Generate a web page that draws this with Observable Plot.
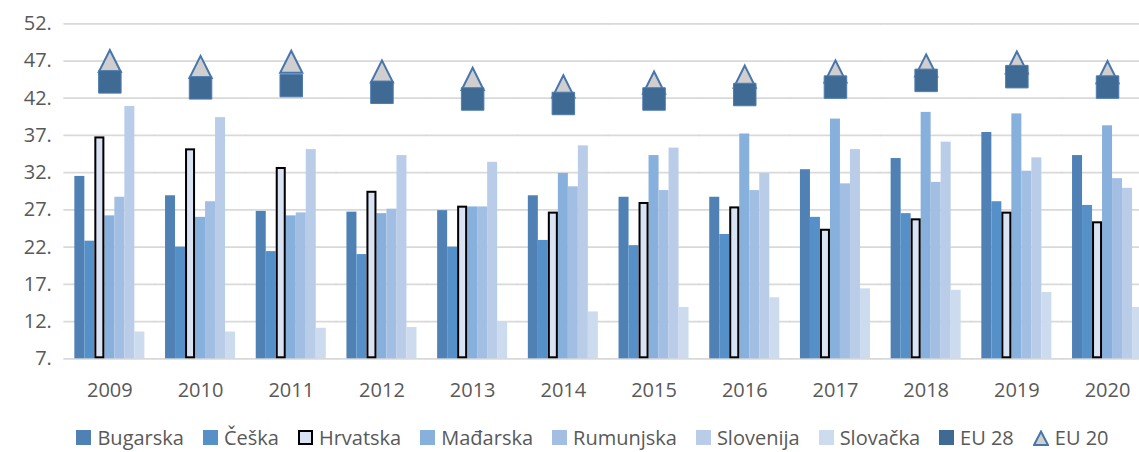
<!DOCTYPE html>
<html>
<head>
<meta charset="utf-8">
<script src="https://cdn.jsdelivr.net/npm/d3@7"></script>
<script src="https://cdn.jsdelivr.net/npm/@observablehq/plot@0.6"></script>
<style>
  html, body { margin: 0; padding: 0; background: #fff; overflow: hidden; }
  #wrap { position: relative; width: 1185px; height: 452px; font-family: "Open Sans", sans-serif; }
  #legend { position: absolute; left: 0; top: 424px; width: 1185px; display: flex; justify-content: center;
            font-size: 20px; color: #595959; line-height: normal; white-space: nowrap; }
  .item { display: flex; align-items: center; margin: 0 9.5px; }
  .sw { width: 15px; height: 15px; margin-right: 6px; box-sizing: border-box; }
</style>
</head>
<body>
<div id="wrap">
  <div id="chart"></div>
  <div id="legend"></div>
</div>
<script>
const years = ["2009","2010","2011","2012","2013","2014","2015","2016","2017","2018","2019","2020"];
const countries = ["Bugarska","Češka","Hrvatska","Mađarska","Rumunjska","Slovenija","Slovačka"];
const bugarska  = [31.5, 28.9, 26.8, 26.7, 26.9, 28.9, 28.7, 28.7, 32.4, 33.9, 37.4, 34.3];
const ceska     = [22.8, 22.0, 21.4, 21.0, 22.0, 22.9, 22.2, 23.7, 26.0, 26.5, 28.1, 27.6];
const hrvatska  = [36.8, 35.2, 32.7, 29.5, 27.5, 26.7, 28.0, 27.4, 24.4, 25.8, 26.7, 25.4];
const madarska  = [26.2, 26.0, 26.2, 26.5, 27.4, 31.9, 34.3, 37.2, 39.2, 40.1, 39.9, 38.3];
const rumunjska = [28.7, 28.1, 26.6, 27.1, 27.4, 30.1, 29.6, 29.6, 30.5, 30.7, 32.2, 31.2];
const slovenija = [40.9, 39.4, 35.1, 34.3, 33.4, 35.6, 35.3, 31.9, 35.1, 36.1, 34.0, 29.9];
const slovacka  = [10.6, 10.6, 11.1, 11.2, 11.9, 13.3, 13.9, 15.2, 16.4, 16.2, 15.9, 13.9];
const eu28      = [44.2, 43.4, 43.7, 42.8, 41.9, 41.3, 41.9, 42.5, 43.5, 44.4, 44.9, 43.5];
const eu20      = [47.0, 46.2, 46.9, 45.6, 44.6, 43.6, 44.1, 44.9, 45.6, 46.4, 46.8, 45.5];
const yTicks = [7, 12, 17, 22, 27, 32, 37, 42, 47, 52];
const legendLabels = ["Bugarska","Češka","Hrvatska","Mađarska","Rumunjska","Slovenija","Slovačka","EU 28","EU 20"];

const colors = ["#4f81b5", "#5591c8", "#dae3f3", "#88b0dc", "#a3bee3", "#b9cde9", "#cddbee"];
const eu28Color = "#3e6a94";
const eu20Fill = "#d0cece";
const eu20Stroke = "#4676ab";

const series = [bugarska, ceska, hrvatska, madarska, rumunjska, slovenija, slovacka];
const rows = years.flatMap((yr, i) => countries.map((c, j) => ({year: yr, country: c, value: series[j][i]})));
const eu = years.map((yr, i) => ({year: yr, eu28: eu28[i], eu20: eu20[i]}));
const yMin = yTicks[0];

const triangle = {
  draw(context, size) {
    const h = Math.sqrt(size) / 2;
    context.moveTo(0, -h);
    context.lineTo(h, h);
    context.lineTo(-h, h);
    context.closePath();
  }
};

const chart = Plot.plot({
  width: 1185,
  height: 410,
  marginTop: 23.3,
  marginBottom: 51.7,
  marginLeft: 64,
  marginRight: 32.6,
  style: {fontFamily: "Open Sans, sans-serif", fontSize: "20px", color: "#595959", background: "transparent", overflow: "visible", maxWidth: "none"},
  fx: {domain: years, paddingInner: 0.228, paddingOuter: 0.114, round: false, label: null, axis: "bottom", tickSize: 0, tickPadding: 24},
  x: {domain: countries, padding: 0, round: false, axis: null},
  y: {domain: [yTicks[0], yTicks[yTicks.length - 1]], ticks: yTicks, tickFormat: d => d + ".", tickSize: 0, tickPadding: 23, label: null},
  color: {domain: countries, range: colors},
  marks: [
    Plot.ruleY(yTicks, {stroke: "#d9d9d9", strokeWidth: 1.75, insetLeft: -11, insetRight: -11}),
    Plot.barY(rows, {fx: "year", x: "country", y1: yMin, y2: "value", fill: "country"}),
    Plot.barY(rows.filter(d => d.country === "Hrvatska"), {fx: "year", x: "country", y1: yMin, y2: "value", fill: "none", stroke: "#000", strokeWidth: 2, inset: 1}),
    Plot.dot(eu, {fx: "year", y: "eu20", symbol: triangle, r: 12.5, fill: eu20Fill, stroke: eu20Stroke, strokeWidth: 2}),
    Plot.dot(eu, {fx: "year", y: "eu28", symbol: "square", r: 12.7, fill: eu28Color, stroke: "#4d7db0", strokeWidth: 1})
  ]
});
document.getElementById("chart").appendChild(chart);

// legend
const legend = document.getElementById("legend");
legendLabels.forEach((lab, i) => {
  const item = document.createElement("div");
  item.className = "item";
  let sw;
  if (i < countries.length) {
    sw = document.createElement("div");
    sw.className = "sw";
    sw.style.background = colors[i];
    if (countries[i] === "Hrvatska") sw.style.border = "2px solid #000";
  } else if (lab === "EU 28") {
    sw = document.createElement("div");
    sw.className = "sw";
    sw.style.background = eu28Color;
  } else {
    sw = document.createElementNS("http://www.w3.org/2000/svg", "svg");
    sw.setAttribute("width", 16);
    sw.setAttribute("height", 16);
    sw.style.marginRight = "6px";
    const p = document.createElementNS("http://www.w3.org/2000/svg", "path");
    p.setAttribute("d", "M8,1.5 L15,15 L1,15 Z");
    p.setAttribute("fill", eu20Fill);
    p.setAttribute("stroke", eu20Stroke);
    p.setAttribute("stroke-width", 2);
    sw.appendChild(p);
  }
  const t = document.createElement("span");
  t.textContent = lab;
  item.appendChild(sw);
  item.appendChild(t);
  legend.appendChild(item);
});
</script>
</body>
</html>
